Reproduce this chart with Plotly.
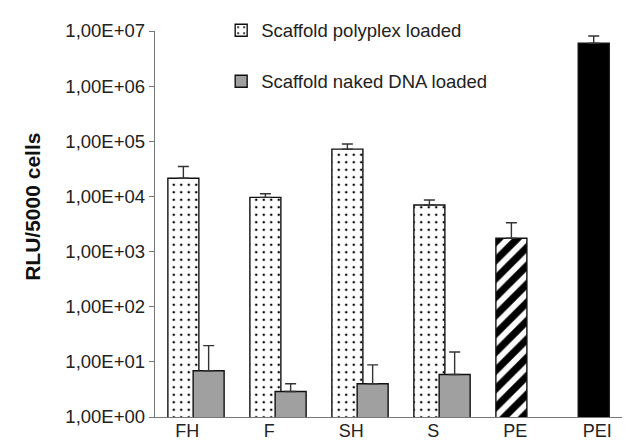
import plotly.graph_objects as go

categories = ["FH", "F", "SH", "S", "PE", "PEI"]
cat_pos = [0, 1, 2, 3, 4, 5]

polyplex_cats = ["FH", "F", "SH", "S"]
polyplex_vals = [2.13e4, 9.6e3, 7.2e4, 7.0e3]
polyplex_err = [1.35e4, 1.6e3, 1.75e4, 1.6e3]

naked_vals = [6.9, 2.9, 4.0, 5.9]
naked_err = [12.8, 1.1, 4.8, 9.2]

pe_val = [1.74e3]
pe_err = [1.6e3]
pei_val = [5.98e6]
pei_err = [2.15e6]

ytick_vals = [1e0, 1e1, 1e2, 1e3, 1e4, 1e5, 1e6, 1e7]
ytick_text = ["1,00E+00", "1,00E+01", "1,00E+02", "1,00E+03",
              "1,00E+04", "1,00E+05", "1,00E+06", "1,00E+07"]
y_title = "RLU/5000 cells"

W = 0.378
pos = dict(zip(categories, cat_pos))
line = dict(color="#111111", width=1.4)


def err(arr):
    return dict(type="data", symmetric=False, array=arr, arrayminus=[0] * len(arr),
                color="#333333", thickness=1.4, width=5.5)


fig = go.Figure()
fig.add_trace(go.Bar(
    name="Scaffold polyplex loaded", x=[pos[c] for c in polyplex_cats], y=polyplex_vals,
    width=W, offset=-0.048 - W / 2,
    marker=dict(color="white", line=line,
                pattern=dict(shape=".", fgcolor="#000000", bgcolor="white", fgopacity=1,
                             size=7.5, solidity=0.09)),
    error_y=err(polyplex_err), legendgroup="a",
))
fig.add_trace(go.Bar(
    name="Scaffold naked DNA loaded", x=[pos[c] for c in polyplex_cats], y=naked_vals,
    width=W, offset=0.26 - W / 2,
    marker=dict(color="#a0a0a0", line=line),
    error_y=err(naked_err), legendgroup="b",
))
fig.add_trace(go.Bar(
    name="PE", x=[pos["PE"]], y=pe_val, width=W, offset=-0.048 - W / 2,
    marker=dict(color="white", line=line,
                pattern=dict(shape="/", fgcolor="black", bgcolor="white", fgopacity=1,
                             size=13, solidity=0.55)),
    error_y=err(pe_err), showlegend=False,
))
fig.add_trace(go.Bar(
    name="PEI", x=[pos["PEI"]], y=pei_val, width=W, offset=-0.044 - W / 2,
    marker=dict(color="black", line=line),
    error_y=err(pei_err), showlegend=False,
))

font = "Liberation Sans, Arial, sans-serif"
fig.add_annotation(
    text="<b>" + y_title + "</b>", textangle=-90, xref="paper", yref="paper",
    x=(25 - 147) / 483, y=(408.7 - 198.5) / 386, xanchor="center", yanchor="middle",
    showarrow=False, font=dict(family=font, size=21, color="#111111"),
)
fig.update_layout(
    width=630, height=442,
    margin=dict(l=147, r=0, t=23, b=33),
    plot_bgcolor="white", paper_bgcolor="white",
    barmode="overlay",
    font=dict(family=font, size=18.5, color="#222222"),
    showlegend=True,
    legend=dict(x=0.137, y=1.05, xanchor="left", yanchor="top",
                bgcolor="rgba(0,0,0,0)", font=dict(size=18.5, color="#222222"),
                tracegroupgap=24, traceorder="grouped"),
    xaxis=dict(range=[-0.394, 5.496], tickmode="array", tickvals=cat_pos, ticktext=categories,
               showgrid=False, zeroline=False, showline=True, linecolor="#777777", linewidth=1.4,
               ticks="", ticklabelstandoff=-3, tickfont=dict(size=18, color="#222222")),
    yaxis=dict(type="log", range=[0, 7], tickmode="array", tickvals=ytick_vals, ticktext=ytick_text,
               showgrid=False, zeroline=False, showline=True, linecolor="#777777", linewidth=1.4,
               ticks="outside", ticklen=5, tickcolor="#777777", tickfont=dict(size=18.5, color="#222222")),
)
fig.write_html("out.html")
